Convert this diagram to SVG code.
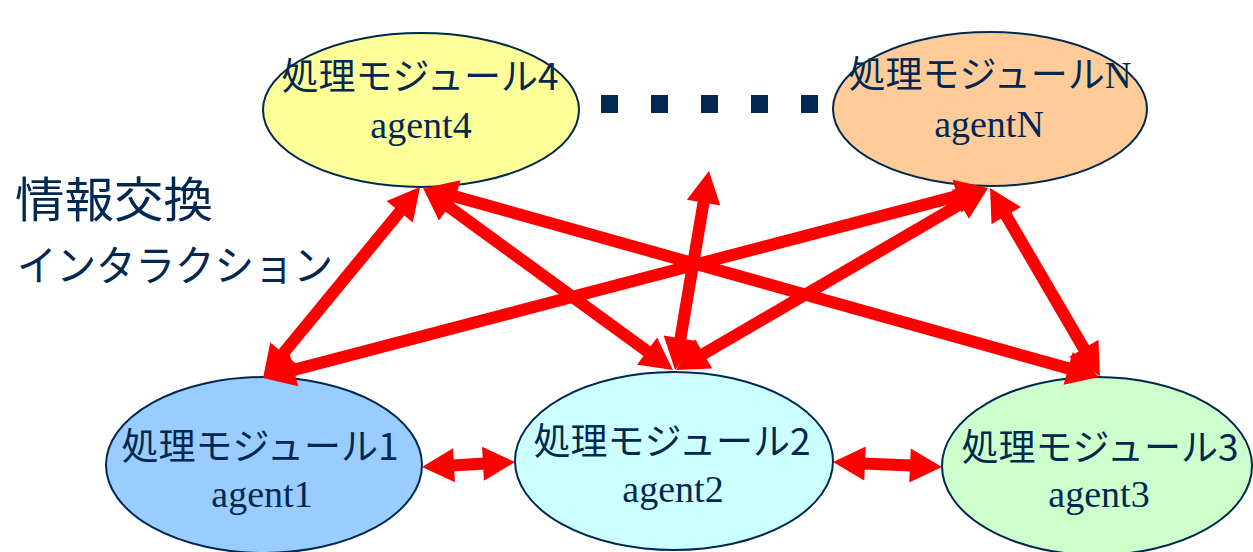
<svg xmlns="http://www.w3.org/2000/svg" width="1253" height="552" viewBox="0 0 1253 552">
  <style>
    .node { stroke: #012850; stroke-width: 2; }
    .jp { font-family: "Noto Sans CJK JP", "Noto Sans", sans-serif; font-size: 37px; fill: #012850; text-anchor: middle; }
    .en { font-family: "Liberation Serif", "Times New Roman", serif; font-size: 38px; fill: #012850; text-anchor: middle; }
    .label { font-family: "Noto Sans CJK JP", "Noto Sans", sans-serif; fill: #012850; }
    .link { stroke: #ff0000; stroke-width: 12; fill: none; marker-start: url(#head); marker-end: url(#head); }
    .dot { fill: #012850; }
  </style>
  <defs>
    <marker id="head" markerUnits="userSpaceOnUse" orient="auto-start-reverse" refX="0" refY="0" markerWidth="40" markerHeight="40" viewBox="-4 -20 40 40" overflow="visible">
      <path d="M-2,-17 L30,0 L-2,17 z" fill="#ff0000"/>
    </marker>
  </defs>

  <!-- side caption -->
  <g id="caption">
    <text class="label" x="15" y="217" font-size="48" textLength="198" lengthAdjust="spacingAndGlyphs">情報交換</text>
    <text class="label" x="17" y="281" font-size="42" textLength="316" lengthAdjust="spacingAndGlyphs">インタラクション</text>
  </g>

  <!-- continuation dots between module 4 and module N -->
  <g id="ellipsis">
    <rect class="dot" x="601" y="95" width="17" height="18"/>
    <rect class="dot" x="651" y="95" width="17" height="18"/>
    <rect class="dot" x="701" y="95" width="17" height="18"/>
    <rect class="dot" x="751" y="95" width="17" height="18"/>
    <rect class="dot" x="801" y="95" width="17" height="18"/>
  </g>

  <!-- nodes -->
  <g id="agent4">
    <ellipse class="node" cx="421" cy="110" rx="158" ry="77" fill="#ffff99"/>
    <text class="jp" x="420" y="90">処理モジュール4</text>
    <text class="en" x="421" y="138">agent4</text>
  </g>
  <g id="agentN">
    <ellipse class="node" cx="990" cy="109" rx="157" ry="77" fill="#ffcc99"/>
    <text class="jp" x="990" y="88">処理モジュール<tspan font-family="Liberation Serif, serif">N</tspan></text>
    <text class="en" x="989" y="137">agentN</text>
  </g>
  <g id="agent1">
    <ellipse class="node" cx="264" cy="465" rx="158" ry="88" fill="#99ccff"/>
    <text class="jp" x="260" y="460">処理モジュール1</text>
    <text class="en" x="262" y="507">agent1</text>
  </g>
  <g id="agent2">
    <ellipse class="node" cx="674" cy="461" rx="159" ry="89" fill="#ccffff"/>
    <text class="jp" x="672" y="455">処理モジュール2</text>
    <text class="en" x="673" y="502">agent2</text>
  </g>
  <g id="agent3">
    <ellipse class="node" cx="1097" cy="466" rx="155" ry="89" fill="#ccffcc"/>
    <text class="jp" x="1100" y="461">処理モジュール3</text>
    <text class="en" x="1099" y="507">agent3</text>
  </g>

  <!-- connectors: double-headed exchange arrows -->
  <g id="connectors">
    <line class="link" x1="282.1" y1="354.8" x2="401.0" y2="210.2"/>
    <line class="link" x1="447.3" y1="205.7" x2="648.7" y2="352.3"/>
    <line class="link" x1="453.9" y1="196.1" x2="1070.1" y2="368.9"/>
    <line class="link" x1="292.0" y1="370.4" x2="959.0" y2="195.6"/>
    <line class="link" x1="701.9" y1="354.9" x2="962.1" y2="203.1"/>
    <line class="link" x1="680.1" y1="340.4" x2="703.9" y2="200.6"/>
    <line class="link" x1="1005.2" y1="213.9" x2="1084.8" y2="350.1"/>
    <line class="link" x1="452" y1="465.4" x2="485" y2="463.6"/>
    <line class="link" x1="863" y1="463.4" x2="912" y2="465.6"/>
  </g>
</svg>
